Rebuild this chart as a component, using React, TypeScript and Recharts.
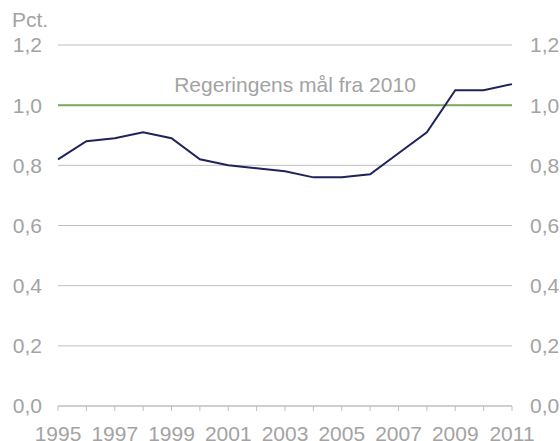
import { CartesianGrid, Line, LineChart, ReferenceLine, XAxis, YAxis } from "recharts"

const years = [
  "1995", "1996", "1997", "1998", "1999", "2000", "2001", "2002", "2003",
  "2004", "2005", "2006", "2007", "2008", "2009", "2010", "2011",
]
const values = [
  0.82, 0.88, 0.89, 0.91, 0.89, 0.82, 0.8, 0.79, 0.78,
  0.76, 0.76, 0.77, 0.84, 0.91, 1.05, 1.05, 1.07,
]
const yTicks = [0, 0.2, 0.4, 0.6, 0.8, 1.0, 1.2]
const target = 1.0
const targetLabel = "Regeringens mål fra 2010"
const unitLabel = "Pct."

const data = years.map((year, i) => ({ year, value: values[i] }))

const font = "'Liberation Sans', Arial, sans-serif"
const textColor = "#a3a3a3"
const gridColor = "#bfbfbf"
const tickStyle = { fontSize: 21, fill: textColor, fontFamily: font }

const fmt = (v: number) => v.toFixed(1).replace(".", ",")

function TargetLabel(props: any) {
  const { viewBox } = props
  const cx = viewBox.x + viewBox.width / 2 + 10
  return (
    <text x={cx} y={viewBox.y - 13} textAnchor="middle" fontSize={21} fill={textColor} fontFamily={font}>
      {targetLabel}
    </text>
  )
}

export default function App() {
  return (
    <div style={{ position: "absolute", left: 0, top: 0, width: 560, height: 441, fontFamily: font }}>
      <div style={{ position: "absolute", left: 12, top: 8, fontSize: 21, color: textColor, lineHeight: "24px" }}>
        {unitLabel}
      </div>
      <LineChart width={560} height={441} data={data} margin={{ top: 45, right: 0, bottom: 0, left: 0 }}>
        <CartesianGrid vertical={false} stroke={gridColor} yAxisId="left" />
        <XAxis
          dataKey="year"
          height={35}
          interval={0}
          tickSize={5}
          tickMargin={15}
          stroke={gridColor}
          tick={tickStyle}
          tickFormatter={(v: string, i: number) => (i % 2 === 0 ? v : "")}
        />
        <YAxis
          yAxisId="left"
          orientation="left"
          width={58}
          domain={[0, 1.2]}
          ticks={yTicks}
          axisLine={false}
          tickLine={false}
          tickSize={6}
          tickMargin={10}
          tick={tickStyle}
          tickFormatter={fmt}
        />
        <YAxis
          yAxisId="right"
          orientation="right"
          width={48}
          domain={[0, 1.2]}
          ticks={yTicks}
          axisLine={false}
          tickLine={false}
          tickSize={6}
          tickMargin={12}
          tick={tickStyle}
          tickFormatter={fmt}
        />
        <ReferenceLine yAxisId="left" y={target} stroke="#80a75c" strokeWidth={2} label={TargetLabel} />
        <Line
          yAxisId="right"
          type="linear"
          dataKey="value"
          stroke="none"
          dot={false}
          activeDot={false}
          legendType="none"
          isAnimationActive={false}
        />
        <Line
          yAxisId="left"
          type="linear"
          dataKey="value"
          stroke="#1d2459"
          strokeWidth={2}
          dot={false}
          isAnimationActive={false}
        />
      </LineChart>
    </div>
  )
}
